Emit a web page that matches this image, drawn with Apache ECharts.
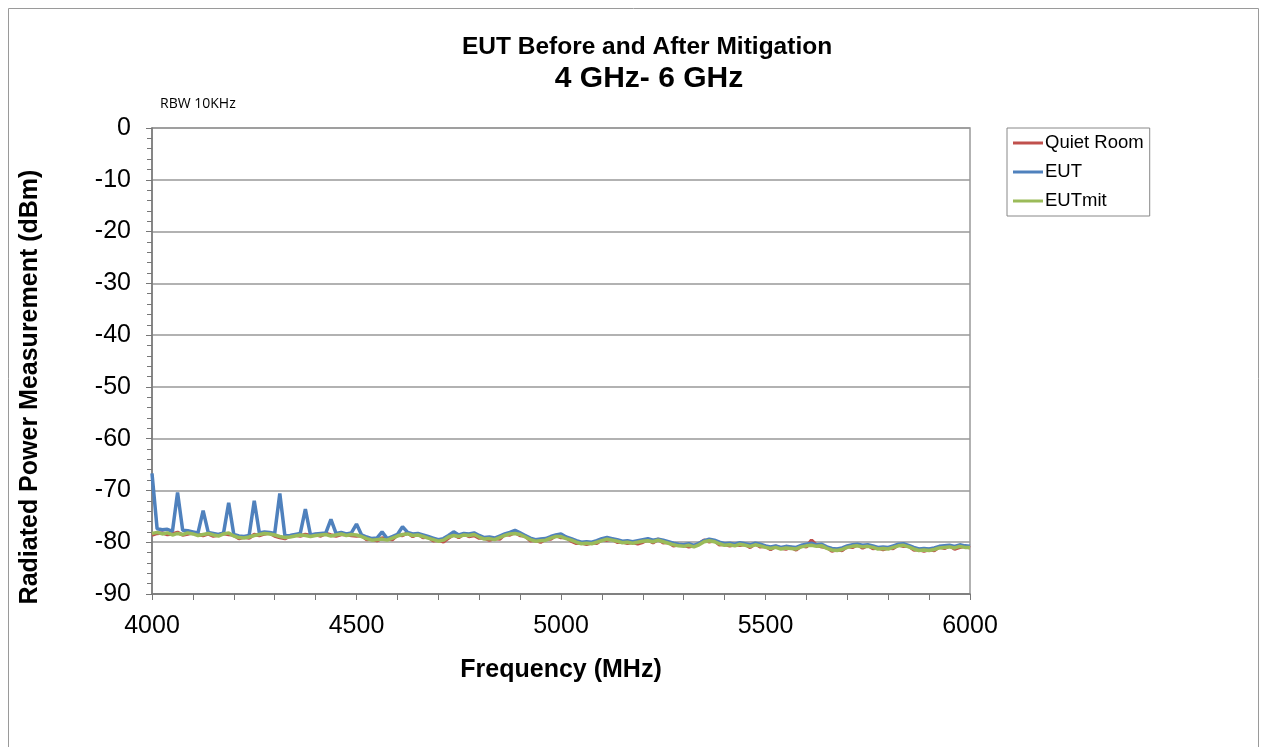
<!DOCTYPE html>
<html>
<head>
<meta charset="utf-8">
<title>EUT Before and After Mitigation</title>
<script src="https://cdn.jsdelivr.net/npm/echarts@6/dist/echarts.min.js"></script>
<style>
    html, body { margin: 0; padding: 0; background: #fff; }
    #chart { width: 1267px; height: 747px; }
</style>
</head>
<body>
<div id="chart"></div>
<script>
// frequency grid: 4000 .. 6000 MHz, 12.5 MHz step
var freqStart = 4000;
var freqStep = 12.5;

var yTicks = [0, -10, -20, -30, -40, -50, -60, -70, -80, -90];
var xTicks = [4000, 4500, 5000, 5500, 6000];

// Quiet Room (dBm)
var quietRoom = [
    -78.6, -78.3, -78.2, -78.5, -78.4, -78.1, -78.6, -78.4,
    -78.2, -78.5, -78.7, -78.4, -78.8, -78.6, -78.3, -78.5,
    -78.6, -79.3, -79.0, -79.2, -78.5, -78.7, -78.4, -78.2,
    -78.8, -79.1, -79.3, -78.8, -78.6, -78.8, -78.5, -78.7,
    -78.5, -78.8, -78.3, -78.6, -78.8, -78.5, -78.5, -78.7,
    -78.8, -78.7, -79.5, -79.4, -79.7, -79.2, -79.4, -79.5,
    -78.6, -78.7, -78.2, -78.9, -78.4, -79.1, -79.0, -79.7,
    -79.6, -79.9, -79.2, -78.5, -79.1, -78.4, -78.9, -78.7,
    -79.2, -79.2, -79.6, -79.3, -79.4, -78.5, -78.6, -78.1,
    -78.7, -78.8, -79.7, -79.6, -80.0, -79.4, -79.4, -78.7,
    -79.1, -79.1, -79.8, -80.2, -80.1, -80.4, -80.1, -80.2,
    -79.5, -79.6, -79.4, -80.0, -79.9, -80.2, -80.0, -80.3,
    -80.0, -79.5, -80.1, -79.4, -80.1, -80.0, -80.7, -80.5,
    -80.6, -80.9, -80.7, -80.3, -79.6, -79.9, -79.7, -80.5,
    -80.4, -80.7, -80.5, -80.6, -80.4, -81.0, -80.3, -80.9,
    -80.8, -81.4, -80.8, -81.1, -81.3, -81.0, -81.5, -80.7,
    -80.9, -79.6, -80.6, -80.9, -81.0, -81.7, -81.4, -81.6,
    -80.8, -81.0, -80.5, -81.1, -80.6, -81.2, -81.1, -81.4,
    -81.1, -81.2, -80.5, -80.8, -80.7, -81.5, -81.4, -81.7,
    -81.4, -81.6, -80.9, -81.2, -80.7, -81.3, -81.0, -80.8,
    -81.1
];

// EUT before mitigation (dBm)
var eut = [
    -66.7, -77.4, -77.6, -77.5, -77.9, -70.4, -77.7, -77.8,
    -78.0, -78.2, -73.9, -78.1, -78.3, -78.5, -78.2, -72.4,
    -78.5, -78.8, -78.9, -78.7, -72.0, -78.2, -78.0, -78.1,
    -78.3, -70.6, -78.8, -78.7, -78.5, -78.3, -73.6, -78.6,
    -78.4, -78.3, -78.2, -75.6, -78.3, -78.1, -78.4, -78.2,
    -76.5, -78.6, -79.0, -79.3, -79.2, -78.0, -79.3, -78.9,
    -78.5, -77.0, -78.1, -78.4, -78.3, -78.6, -78.9, -79.2,
    -79.5, -79.3, -78.7, -78.0, -78.6, -78.3, -78.4, -78.2,
    -78.7, -79.1, -79.0, -79.2, -78.8, -78.4, -78.1, -77.7,
    -78.2, -78.7, -79.2, -79.5, -79.4, -79.3, -78.9, -78.6,
    -78.4, -79.0, -79.3, -79.7, -80.0, -79.9, -80.0, -79.7,
    -79.3, -79.1, -79.3, -79.5, -79.8, -79.7, -79.9, -79.7,
    -79.5, -79.3, -79.6, -79.4, -79.6, -79.9, -80.2, -80.4,
    -80.5, -80.3, -80.6, -80.2, -79.7, -79.4, -79.6, -80.0,
    -80.3, -80.2, -80.4, -80.1, -80.3, -80.5, -80.2, -80.4,
    -80.7, -80.9, -80.7, -81.0, -80.8, -80.9, -81.0, -80.6,
    -80.4, -80.2, -80.5, -80.4, -80.9, -81.2, -81.3, -81.1,
    -80.7, -80.5, -80.4, -80.6, -80.5, -80.7, -81.0, -80.9,
    -81.0, -80.7, -80.4, -80.3, -80.6, -81.0, -81.3, -81.2,
    -81.3, -81.1, -80.8, -80.7, -80.6, -80.8, -80.5, -80.7,
    -80.8
];

// EUT after mitigation (dBm)
var eutMit = [
    -78.3, -78.1, -78.4, -78.2, -78.6, -78.3, -78.5, -78.2,
    -78.4, -78.7, -78.5, -78.3, -78.6, -78.8, -78.4, -78.2,
    -78.8, -79.1, -79.2, -79.0, -78.7, -78.5, -78.3, -78.4,
    -78.6, -78.9, -79.1, -79.0, -78.8, -78.6, -78.7, -78.9,
    -78.7, -78.6, -78.5, -78.8, -78.6, -78.4, -78.7, -78.5,
    -78.6, -78.9, -79.3, -79.6, -79.5, -79.4, -79.6, -79.2,
    -78.8, -78.5, -78.4, -78.7, -78.6, -78.9, -79.2, -79.5,
    -79.8, -79.6, -79.0, -78.7, -78.9, -78.6, -78.7, -78.5,
    -79.0, -79.4, -79.3, -79.5, -79.1, -78.7, -78.4, -78.3,
    -78.5, -79.0, -79.5, -79.8, -79.7, -79.6, -79.2, -78.9,
    -78.9, -79.3, -79.6, -80.0, -80.3, -80.2, -80.3, -80.0,
    -79.7, -79.4, -79.6, -79.8, -80.1, -80.0, -80.2, -80.0,
    -79.8, -79.7, -79.9, -79.6, -79.9, -80.2, -80.5, -80.7,
    -80.8, -80.6, -80.9, -80.5, -79.9, -79.7, -79.9, -80.3,
    -80.6, -80.5, -80.7, -80.4, -80.6, -80.8, -80.5, -80.7,
    -81.0, -81.2, -81.0, -81.3, -81.1, -81.2, -81.3, -80.9,
    -80.7, -80.6, -80.8, -80.7, -81.2, -81.5, -81.6, -81.4,
    -81.0, -80.8, -80.7, -80.9, -80.8, -81.0, -81.3, -81.2,
    -81.3, -81.0, -80.7, -80.6, -80.9, -81.3, -81.6, -81.5,
    -81.6, -81.4, -81.1, -81.0, -80.9, -81.1, -80.8, -81.0,
    -81.0
];

window.onload = function(){
    showChart();
}

function pairs(values) {
    var out = [];
    for (var i = 0; i < values.length; i++) {
        out.push([freqStart + i * freqStep, values[i]]);
    }
    return out;
}

function showChart() {

    var myChart = echarts.init(document.getElementById('chart'));
    var font = '"Liberation Sans", Arial, sans-serif';

    var lineSeries = function(name, color, values) {
        return {
            name: name,
            type: 'line',
            showSymbol: false,
            symbol: 'none',
            sampling: null,
            lineStyle: { color: color, width: 3.5 },
            itemStyle: { color: color },
            data: pairs(values)
        };
    };

    var option = {
        animation: false,
        backgroundColor: '#fff',
        textStyle: { fontFamily: font },
        title: [
            {
                text: 'EUT Before and After Mitigation',
                left: 642,
                top: 30,
                textAlign: 'center',
                textStyle: { fontSize: 24.5, fontWeight: 'bold', color: '#000', fontFamily: font }
            },
            {
                text: '4 GHz- 6 GHz',
                left: 644,
                top: 59,
                textAlign: 'center',
                textStyle: { fontSize: 30, fontWeight: 'bold', color: '#000', fontFamily: font }
            }
        ],
        graphic: [
            {
                type: 'rect',
                silent: true,
                shape: { x: 8.5, y: 8.5, width: 1250, height: 760 },
                style: { fill: 'none', stroke: '#9a9a9a', lineWidth: 1 }
            },
            {
                type: 'text',
                left: 160,
                top: 97,
                style: { text: 'RBW 10KHz', fontSize: 14, fill: '#000', fontFamily: '"Open Sans", sans-serif' }
            },
            {
                // y axis title, placed a bit below the plot's middle like the original
                type: 'text',
                x: 30,
                y: 387,
                rotation: Math.PI / 2,
                style: {
                    text: 'Radiated Power Measurement (dBm)',
                    fontSize: 25,
                    fontWeight: 'bold',
                    fill: '#000',
                    fontFamily: font,
                    align: 'center',
                    verticalAlign: 'middle'
                }
            }
        ],
        legend: {
            orient: 'vertical',
            left: 1007,
            top: 128,
            data: ['Quiet Room', 'EUT', 'EUTmit'],
            icon: 'rect',
            itemWidth: 30,
            itemHeight: 3,
            itemGap: 9,
            padding: [5, 6, 5, 6],
            borderColor: '#888',
            borderWidth: 1,
            textStyle: { color: '#000', fontSize: 18.5, lineHeight: 20, fontFamily: font, padding: [0, 0, 0, -3] }
        },
        grid: {
            left: 152,
            right: 297,
            top: 128,
            bottom: 153,
            show: true,
            borderColor: '#999',
            borderWidth: 1.5
        },
        xAxis: {
            type: 'value',
            min: 4000,
            max: 6000,
            interval: 500,
            name: 'Frequency (MHz)',
            nameLocation: 'middle',
            nameGap: 64,
            nameTextStyle: { fontSize: 25, fontWeight: 'bold', color: '#000', fontFamily: font },
            axisLine: { onZero: false, lineStyle: { color: '#777', width: 1.5 } },
            axisTick: { show: true, length: 6, lineStyle: { color: '#777' } },
            minorTick: { show: true, splitNumber: 5, length: 6, lineStyle: { color: '#777' } },
            splitLine: { show: false },
            axisLabel: {
                fontSize: 25,
                color: '#000',
                margin: 20,
                formatter: function(v) { return xTicks.indexOf(v) >= 0 ? String(v) : ''; }
            }
        },
        yAxis: {
            type: 'value',
            min: -90,
            max: 0,
            interval: 10,
            axisLine: { show: true, onZero: false, lineStyle: { color: '#777', width: 1.5 } },
            axisTick: { show: true, length: 6, lineStyle: { color: '#777' } },
            minorTick: { show: true, splitNumber: 5, length: 5, lineStyle: { color: '#777' } },
            splitLine: { show: true, lineStyle: { color: '#999', width: 1.5 } },
            axisLabel: {
                fontSize: 25,
                color: '#000',
                margin: 21,
                formatter: function(v) { return yTicks.indexOf(v) >= 0 ? String(v) : ''; }
            }
        },
        series: [
            lineSeries('Quiet Room', '#C0504D', quietRoom),
            lineSeries('EUT', '#4F81BD', eut),
            lineSeries('EUTmit', '#9BBB59', eutMit)
        ]
    };

    myChart.setOption(option);
}
</script>
</body>
</html>
